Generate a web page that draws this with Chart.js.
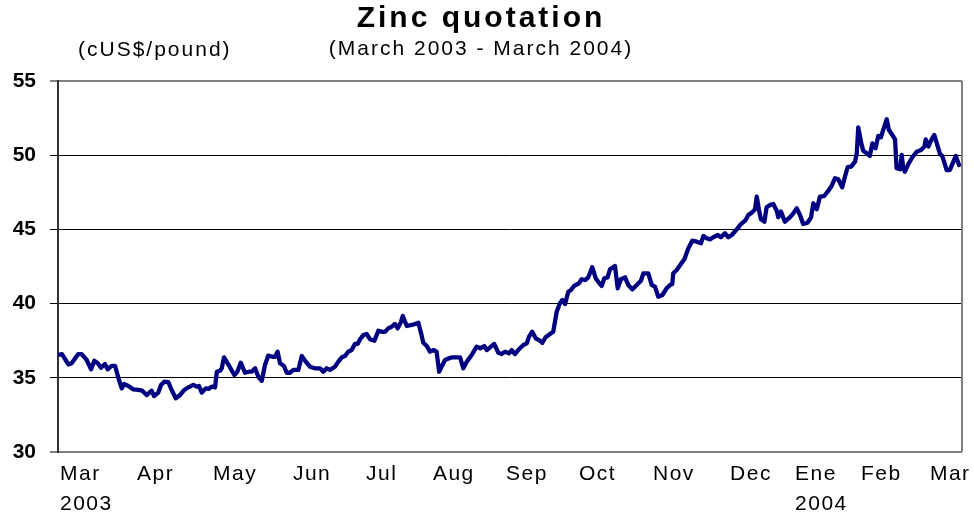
<!DOCTYPE html>
<html><head><meta charset="utf-8">
<script src="https://cdn.jsdelivr.net/npm/chart.js@4"></script>
<style>html,body{margin:0;padding:0;background:#fff;}</style>
</head><body>
<canvas id="c" width="974" height="520"></canvas>
<script>
const titleText = 'Zinc quotation';
const subtitleText = '(March 2003 - March 2004)';
const unitText = '(cUS$/pound)';

// x = days since start of series (early March 2003)
const days = [
0.1,1.6,4.2,5.5,8.2,9.6,11.6,13.4,14.7,16.1,17.4,19.0,20.1,21.7,23.1,24.7,25.8,26.8,28.5,30.5,32.5,34.1,35.9,37.9,38.9,40.6,41.7,43.0,44.7,46.0,47.7,49.4,51.1,52.8,
53.4,54.8,56.2,57.1,58.2,59.8,61.1,62.2,63.6,64.3,65.6,66.3,67.2,68.3,69.6,71.4,72.6,74.0,75.7,77.3,78.4,79.8,81.1,82.5,83.8,85.1,86.8,87.9,88.9,89.9,91.5,92.6,93.9,95.3,97.3,98.7,100.3,102.0,104.0,
106.1,107.4,108.8,110.1,112.1,113.5,114.9,116.2,117.5,118.9,120.2,121.3,122.3,123.6,125.0,126.3,128.1,129.7,131.3,132.4,133.7,135.1,136.4,137.5,138.9,139.6,141.2,143.2,144.5,145.9,147.0,147.9,149.3,150.6,151.9,153.3,154.3,155.3,156.7,
158.3,159.6,161.4,162.8,164.1,165.5,167.5,169.5,170.9,172.6,173.6,175.3,176.6,178.3,179.6,181.0,182.6,183.7,185.0,186.6,188.4,189.8,190.7,192.0,193.4,195.1,196.1,197.4,199.2,200.5,201.9,203.2,204.2,205.3,206.6,207.7,209.0,
210.9,212.0,213.4,214.7,216.3,217.7,219.0,220.1,221.2,222.5,223.5,225.5,226.6,227.9,229.6,230.9,232.5,234.3,236.0,237.0,239.0,240.4,241.7,243.0,244.7,246.4,247.8,248.7,249.1,250.5,252.2,253.6,255.2,256.8,258.6,260.3,261.3,262.6,
264.0,265.3,267.1,268.4,270.0,271.4,272.8,274.8,276.5,278.4,279.5,280.9,282.2,282.9,283.8,284.6,286.0,286.9,288.3,289.6,291.0,291.6,292.7,294.3,296.4,297.7,299.1,300.4,301.7,303.5,304.9,305.8,307.2,308.5,310.2,311.6,313.2,314.6,
315.9,317.5,318.6,319.7,321.1,322.7,323.4,324.0,325.1,326.0,327.4,328.7,329.7,331.0,332.1,333.2,334.1,335.5,336.4,337.8,338.9,339.5,340.9,341.6,342.2,342.9,344.3,345.9,347.7,349.4,350.8,351.3,352.4,353.7,354.8,355.8,357.1,358.0,359.8,361.1,362.5,363.5,364.8
];
const prices = [
36.54,36.6,35.9,35.98,36.6,36.6,36.2,35.57,36.15,35.98,35.68,35.93,35.57,35.8,35.8,34.85,34.29,34.58,34.45,34.22,34.18,34.13,33.84,34.13,33.77,34.0,34.52,34.74,34.7,34.18,33.62,33.84,34.18,34.36,
34.4,34.52,34.4,34.45,34.0,34.29,34.25,34.4,34.36,35.41,35.48,35.64,36.38,36.09,35.71,35.19,35.41,36.02,35.34,35.41,35.41,35.64,35.07,34.8,35.86,36.49,36.42,36.42,36.76,35.98,35.8,35.34,35.34,35.53,35.53,36.47,36.09,35.75,35.64,
35.64,35.41,35.64,35.53,35.75,36.09,36.38,36.47,36.76,36.87,37.28,37.28,37.6,37.88,37.95,37.6,37.5,38.17,38.1,38.1,38.33,38.44,38.63,38.33,38.78,39.17,38.49,38.56,38.63,38.71,38.0,37.36,37.14,36.76,36.87,36.76,35.41,35.75,36.2,
36.31,36.38,36.38,36.38,35.64,36.09,36.54,37.1,36.99,37.14,36.87,37.1,37.28,36.69,36.6,36.76,36.65,36.87,36.6,36.92,37.21,37.32,37.77,38.1,37.66,37.5,37.36,37.73,37.95,38.1,39.45,40.02,40.24,39.97,40.8,40.92,41.19,
41.37,41.64,41.59,41.77,42.45,41.71,41.41,41.19,41.71,41.77,42.31,42.53,41.03,41.64,41.77,41.25,40.96,41.25,41.54,42.04,42.04,41.25,41.14,40.47,40.58,41.03,41.25,41.32,42.04,42.27,42.67,42.99,43.73,44.24,44.17,44.06,44.56,44.4,
44.33,44.47,44.62,44.47,44.74,44.47,44.62,45.0,45.36,45.63,45.97,46.13,46.36,47.21,46.31,45.68,45.52,46.49,46.65,46.71,46.26,45.82,46.2,45.52,45.82,46.08,46.42,45.97,45.36,45.45,45.82,46.76,46.36,47.21,47.25,47.54,47.93,48.45,
48.38,47.84,48.55,49.19,49.23,49.57,50.13,51.88,50.91,50.3,50.13,49.95,50.8,50.47,51.3,51.21,51.7,52.42,51.7,51.36,51.07,49.12,49.05,50.02,49.12,48.89,49.41,49.86,50.24,50.35,50.58,51.07,50.58,51.07,51.36,50.8,50.08,49.95,49.0,49.0,49.57,49.95,49.34
];

const tickDays = [0.8, 32.0, 62.8, 95.1, 124.7, 151.8, 181.4, 210.9, 240.9, 272.1, 298.4, 325.1, 353.0];
const tickLabels = [['Mar','2003'],'Apr','May','Jun','Jul','Aug','Sep','Oct','Nov','Dec',['Ene','2004'],'Feb','Mar'];
const yTicks = [30, 35, 40, 45, 50, 55];

const FONT = "'Liberation Sans', Arial, Helvetica, sans-serif";

const spacingPlugin = {
  id: 'spacing',
  beforeLayout(chart) {
    chart.boxes.forEach(b => {
      if (b._spWrapped) return;
      let sp = null;
      if (b.id === 'x') sp = '1.5px';
      else if (b.options && b.options.text === titleText) sp = '3px';
      else if (b.options && b.options.text === subtitleText) sp = '2px';
      if (sp === null) return;
      const orig = b.draw;
      b.draw = function (area) {
        const ctx = this.ctx;
        ctx.save();
        ctx.letterSpacing = sp;
        orig.call(this, area);
        ctx.restore();
      };
      b._spWrapped = true;
    });
  }
};

const framePlugin = {
  id: 'frame',
  beforeDatasetsDraw(chart) {
    const {ctx, chartArea: a} = chart;
    ctx.save();
    ctx.strokeStyle = '#808080';
    ctx.lineWidth = 2;
    ctx.beginPath();
    ctx.moveTo(a.right, a.top);
    ctx.lineTo(a.right, a.bottom);
    ctx.stroke();
    ctx.restore();
  }
};

const unitPlugin = {
  id: 'unit',
  afterDraw(chart) {
    const {ctx, chartArea: a} = chart;
    ctx.save();
    ctx.font = '21px ' + FONT;
    ctx.letterSpacing = '2px';
    ctx.fillStyle = '#000';
    ctx.textAlign = 'left';
    ctx.textBaseline = 'middle';
    ctx.fillText(unitText, a.left + 20, a.top - 31);
    ctx.restore();
  }
};

const isEdge = c => c.tick && (c.tick.value === 30 || c.tick.value === 55);

new Chart(document.getElementById('c').getContext('2d'), {
  type: 'line',
  data: {
    datasets: [{
      data: days.map((d, i) => ({x: d, y: prices[i]})),
      borderColor: '#000080',
      borderWidth: 4.3,
      pointRadius: 0,
      tension: 0,
      fill: false,
      borderJoinStyle: 'round',
      borderCapStyle: 'round'
    }]
  },
  options: {
    responsive: false,
    animation: false,
    devicePixelRatio: 1,
    layout: {padding: {left: 0, right: 12, top: 0, bottom: 0}},
    plugins: {
      legend: {display: false},
      tooltip: {enabled: false},
      title: {
        display: true, text: titleText, color: '#000',
        font: {family: FONT, size: 30, weight: 'bold', lineHeight: 1.2},
        padding: {top: 1, bottom: 0}
      },
      subtitle: {
        display: true, text: subtitleText, color: '#000',
        font: {family: FONT, size: 21, lineHeight: 1.2},
        padding: {top: 0, bottom: 18.8}
      }
    },
    scales: {
      x: {
        type: 'linear', min: 0, max: 366,
        grid: {display: false, drawTicks: false},
        border: {display: false},
        afterBuildTicks: s => { s.ticks = tickDays.map(v => ({value: v})); },
        afterFit: s => { s.height = 68; s.paddingLeft = 0; s.paddingRight = 0; },
        ticks: {
          autoSkip: false, maxRotation: 0, minRotation: 0, align: 'start', padding: 8,
          color: '#000', font: {family: FONT, size: 21, lineHeight: 1.4},
          callback: (v, i) => tickLabels[i]
        }
      },
      y: {
        min: 30, max: 55,
        afterBuildTicks: s => { s.ticks = yTicks.map(v => ({value: v})); },
        afterFit: s => { s.width = 58; },
        grid: {
          color: c => isEdge(c) ? '#808080' : '#000',
          lineWidth: c => isEdge(c) ? 2 : 1,
          tickLength: 8, tickColor: '#000', tickWidth: 1, drawTicks: true
        },
        border: {display: true, color: '#333', width: 2},
        ticks: {
          padding: 14, color: '#000',
          font: {family: FONT, size: 21, weight: 'bold'},
          callback: v => String(v)
        }
      }
    }
  },
  plugins: [spacingPlugin, framePlugin, unitPlugin]
});
</script>
</body></html>
